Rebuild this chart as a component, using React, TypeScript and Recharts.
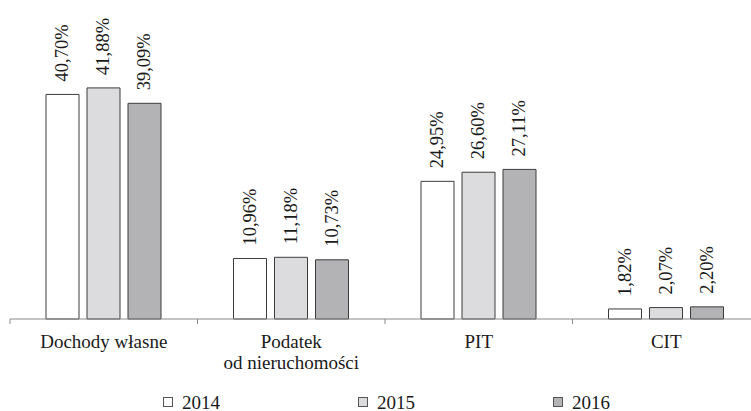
import React from "react";
import { BarChart, Bar, XAxis, YAxis, Legend, LabelList } from "recharts";

const categories = ["Dochody własne", "Podatek\nod nieruchomości", "PIT", "CIT"];
const series2014 = [40.7, 10.96, 24.95, 1.82];
const series2015 = [41.88, 11.18, 26.6, 2.07];
const series2016 = [39.09, 10.73, 27.11, 2.2];
const seriesNames = ["2014", "2015", "2016"];

const FONT = "'Liberation Serif', Tinos, 'Times New Roman', 'DejaVu Serif', 'Noto Serif', serif";
const TXT = { fontFamily: FONT, fontSize: "18.5px" };
const TXT_CAT = { fontFamily: FONT, fontSize: "19px" };
const FILLS = ["#ffffff", "#dcdcde", "#b3b3b6"];
const STROKE = "#3c3c3c";
const AXIS = "#8a8a8a";

const data = categories.map((c, i) => ({
  name: c,
  s2014: series2014[i],
  s2015: series2015[i],
  s2016: series2016[i],
}));

const fmt = (v: number) => v.toFixed(2).replace(".", ",") + "%";

const ValueLabel = (props: any) => {
  const { x, y, width, value } = props;
  const cx = Number(x) + Number(width) / 2;
  const ty = Number(y) - 13;
  return (
    <text
      x={cx}
      y={ty}
      transform={`rotate(-90 ${cx} ${ty})`}
      textAnchor="start"
      dominantBaseline="central"
      style={TXT}
      fill="#1a1a1a"
    >
      {fmt(Number(value))}
    </text>
  );
};

const CategoryTick = (props: any) => {
  const { x, y, payload, index, visibleTicksCount } = props;
  const off = payload.offset || 0;
  const lines = String(payload.value).split("\n");
  const isLast = index === (visibleTicksCount ?? categories.length) - 1;
  return (
    <g>
      <line x1={x - off} x2={x - off} y1={y} y2={y + 5} stroke={AXIS} strokeWidth={1} />
      {isLast && <line x1={x + off} x2={x + off} y1={y} y2={y + 5} stroke={AXIS} strokeWidth={1} />}
      {lines.map((l, i) => (
        <text key={i} x={x} y={y + 29 + i * 21} textAnchor="middle" style={TXT_CAT} fill="#1a1a1a">
          {l}
        </text>
      ))}
    </g>
  );
};

const legendX = [163.5, 358.5, 553.5];

const LegendContent = () => (
  <svg width={751} height={20} style={{ display: "block" }}>
    {seriesNames.map((n, i) => (
      <g key={n}>
        <rect x={legendX[i]} y={6.5} width={9} height={9} fill={FILLS[i]} stroke="#555" strokeWidth={1} />
        <text x={legendX[i] + 18.5} y={17.5} style={TXT_CAT} fill="#1a1a1a">
          {n}
        </text>
      </g>
    ))}
  </svg>
);

export default function App() {
  return (
    <div
      style={{
        position: "absolute",
        left: 0,
        top: 0,
        width: 751,
        height: 411,
        overflow: "hidden",
        background: "#ffffff",
        fontFamily: FONT,
      }}
    >
      <BarChart
        width={770}
        height={411}
        data={data}
        margin={{ top: 10, right: 10, left: 10, bottom: 0 }}
        barCategoryGap={36}
        barGap={8}
      >
        <XAxis
          dataKey="name"
          height={72}
          interval={0}
          tickLine={false}
          tickSize={0}
          tickMargin={0}
          axisLine={{ stroke: AXIS, strokeWidth: 1 }}
          tick={<CategoryTick />}
        />
        <YAxis hide domain={[0, 56]} />
        <Legend
          verticalAlign="bottom"
          wrapperStyle={{ left: 0, width: 751 }}
          content={<LegendContent />}
        />
        <Bar dataKey="s2014" name="2014" fill={FILLS[0]} stroke={STROKE} strokeWidth={1} barSize={33} isAnimationActive={false}>
          <LabelList dataKey="s2014" content={<ValueLabel />} />
        </Bar>
        <Bar dataKey="s2015" name="2015" fill={FILLS[1]} stroke={STROKE} strokeWidth={1} barSize={33} isAnimationActive={false}>
          <LabelList dataKey="s2015" content={<ValueLabel />} />
        </Bar>
        <Bar dataKey="s2016" name="2016" fill={FILLS[2]} stroke={STROKE} strokeWidth={1} barSize={33} isAnimationActive={false}>
          <LabelList dataKey="s2016" content={<ValueLabel />} />
        </Bar>
      </BarChart>
    </div>
  );
}
